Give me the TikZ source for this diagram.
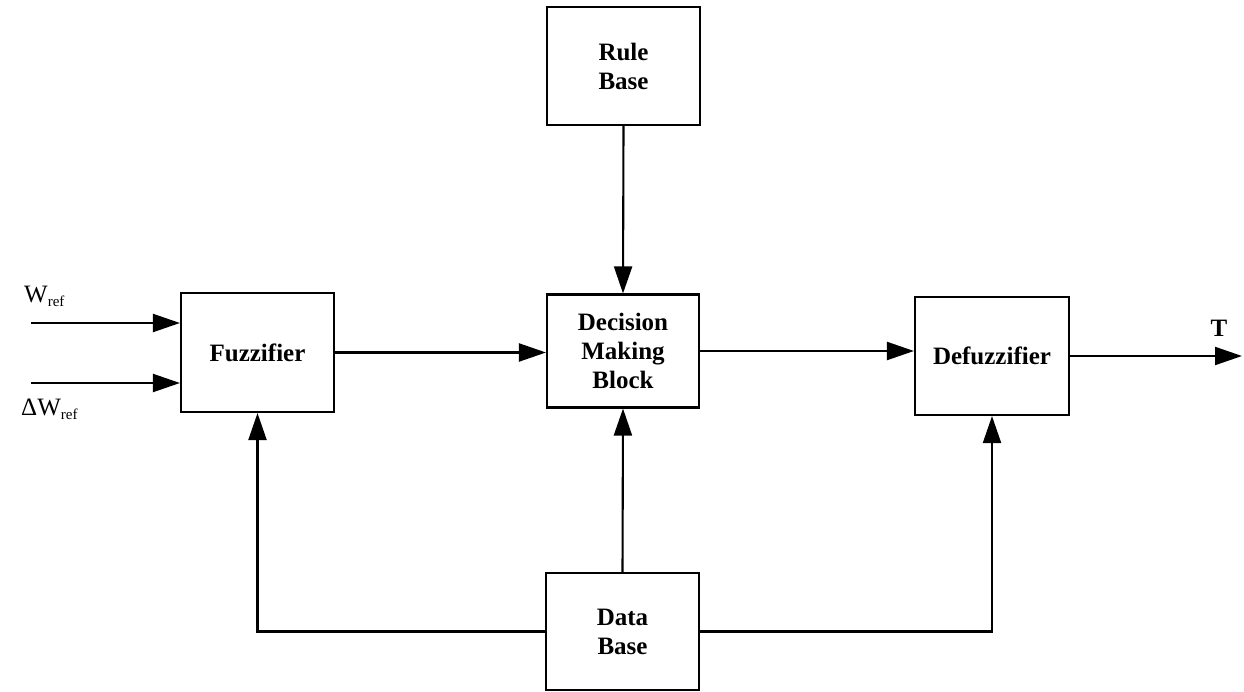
\documentclass[tikz,border=0pt]{standalone}
\usepackage{fontspec}
\setmainfont{Liberation Serif}
\usetikzlibrary{arrows.meta}
\begin{document}
\begin{tikzpicture}[x=1pt,y=-1pt,
  blk/.style={draw,line width=2.1pt,inner sep=0pt,align=center,
    font=\fontsize{25}{29}\selectfont\bfseries},
  arr/.style={line width=2.1pt,-{Triangle[length=27pt,width=18pt]}},
  lbl/.style={inner sep=0pt,font=\fontsize{25}{25}\selectfont}]
\useasboundingbox (0,0) rectangle (1244,692);
\node[blk,minimum width=153pt,minimum height=118pt] (rule) at (623.5,66) {Rule\\Base};
\node[blk,minimum width=152pt,minimum height=113pt] (dec) at (623,351) {Decision\\Making\\Block};
\node[blk,minimum width=153pt,minimum height=119pt] (fuzz) at (257.5,352.5) {Fuzzifier};
\node[blk,minimum width=154pt,minimum height=118pt] (defuzz) at (992,356) {Defuzzifier};
\node[blk,minimum width=153pt,minimum height=117pt] (data) at (622.5,631.5) {Data\\Base};
% input labels
\node[lbl,anchor=west] (wref) at (24,296) {W\raisebox{-0.35ex}{\fontsize{15}{15}\selectfont ref}};
\node[lbl,anchor=west] (dwref) at (21,409) {\char"0394W\raisebox{-0.35ex}{\fontsize{15}{15}\selectfont ref}};
\node[lbl,font=\fontsize{25}{25}\selectfont\bfseries] (t) at (1219,328) {T};
\coordinate (in1) at (31,323);
\coordinate (in2) at (31,383);
\coordinate (out) at (1242,356);
% connectors
\draw[arr] (in1) -- (in1 -| fuzz.west);
\draw[arr] (in2) -- (in2 -| fuzz.west);
\draw[arr] (fuzz.east) -- (fuzz.east -| dec.west);
\draw[arr] (dec.east) -- (dec.east -| defuzz.west);
\draw[arr] (defuzz.east) -- (out);
\draw[arr] (rule.south) -- (dec.north);
\draw[arr] (data.north) -- (dec.south);
\draw[arr] (data.west) -| (fuzz.south);
\draw[arr] (data.east) -| (defuzz.south);
\end{tikzpicture}
\end{document}
